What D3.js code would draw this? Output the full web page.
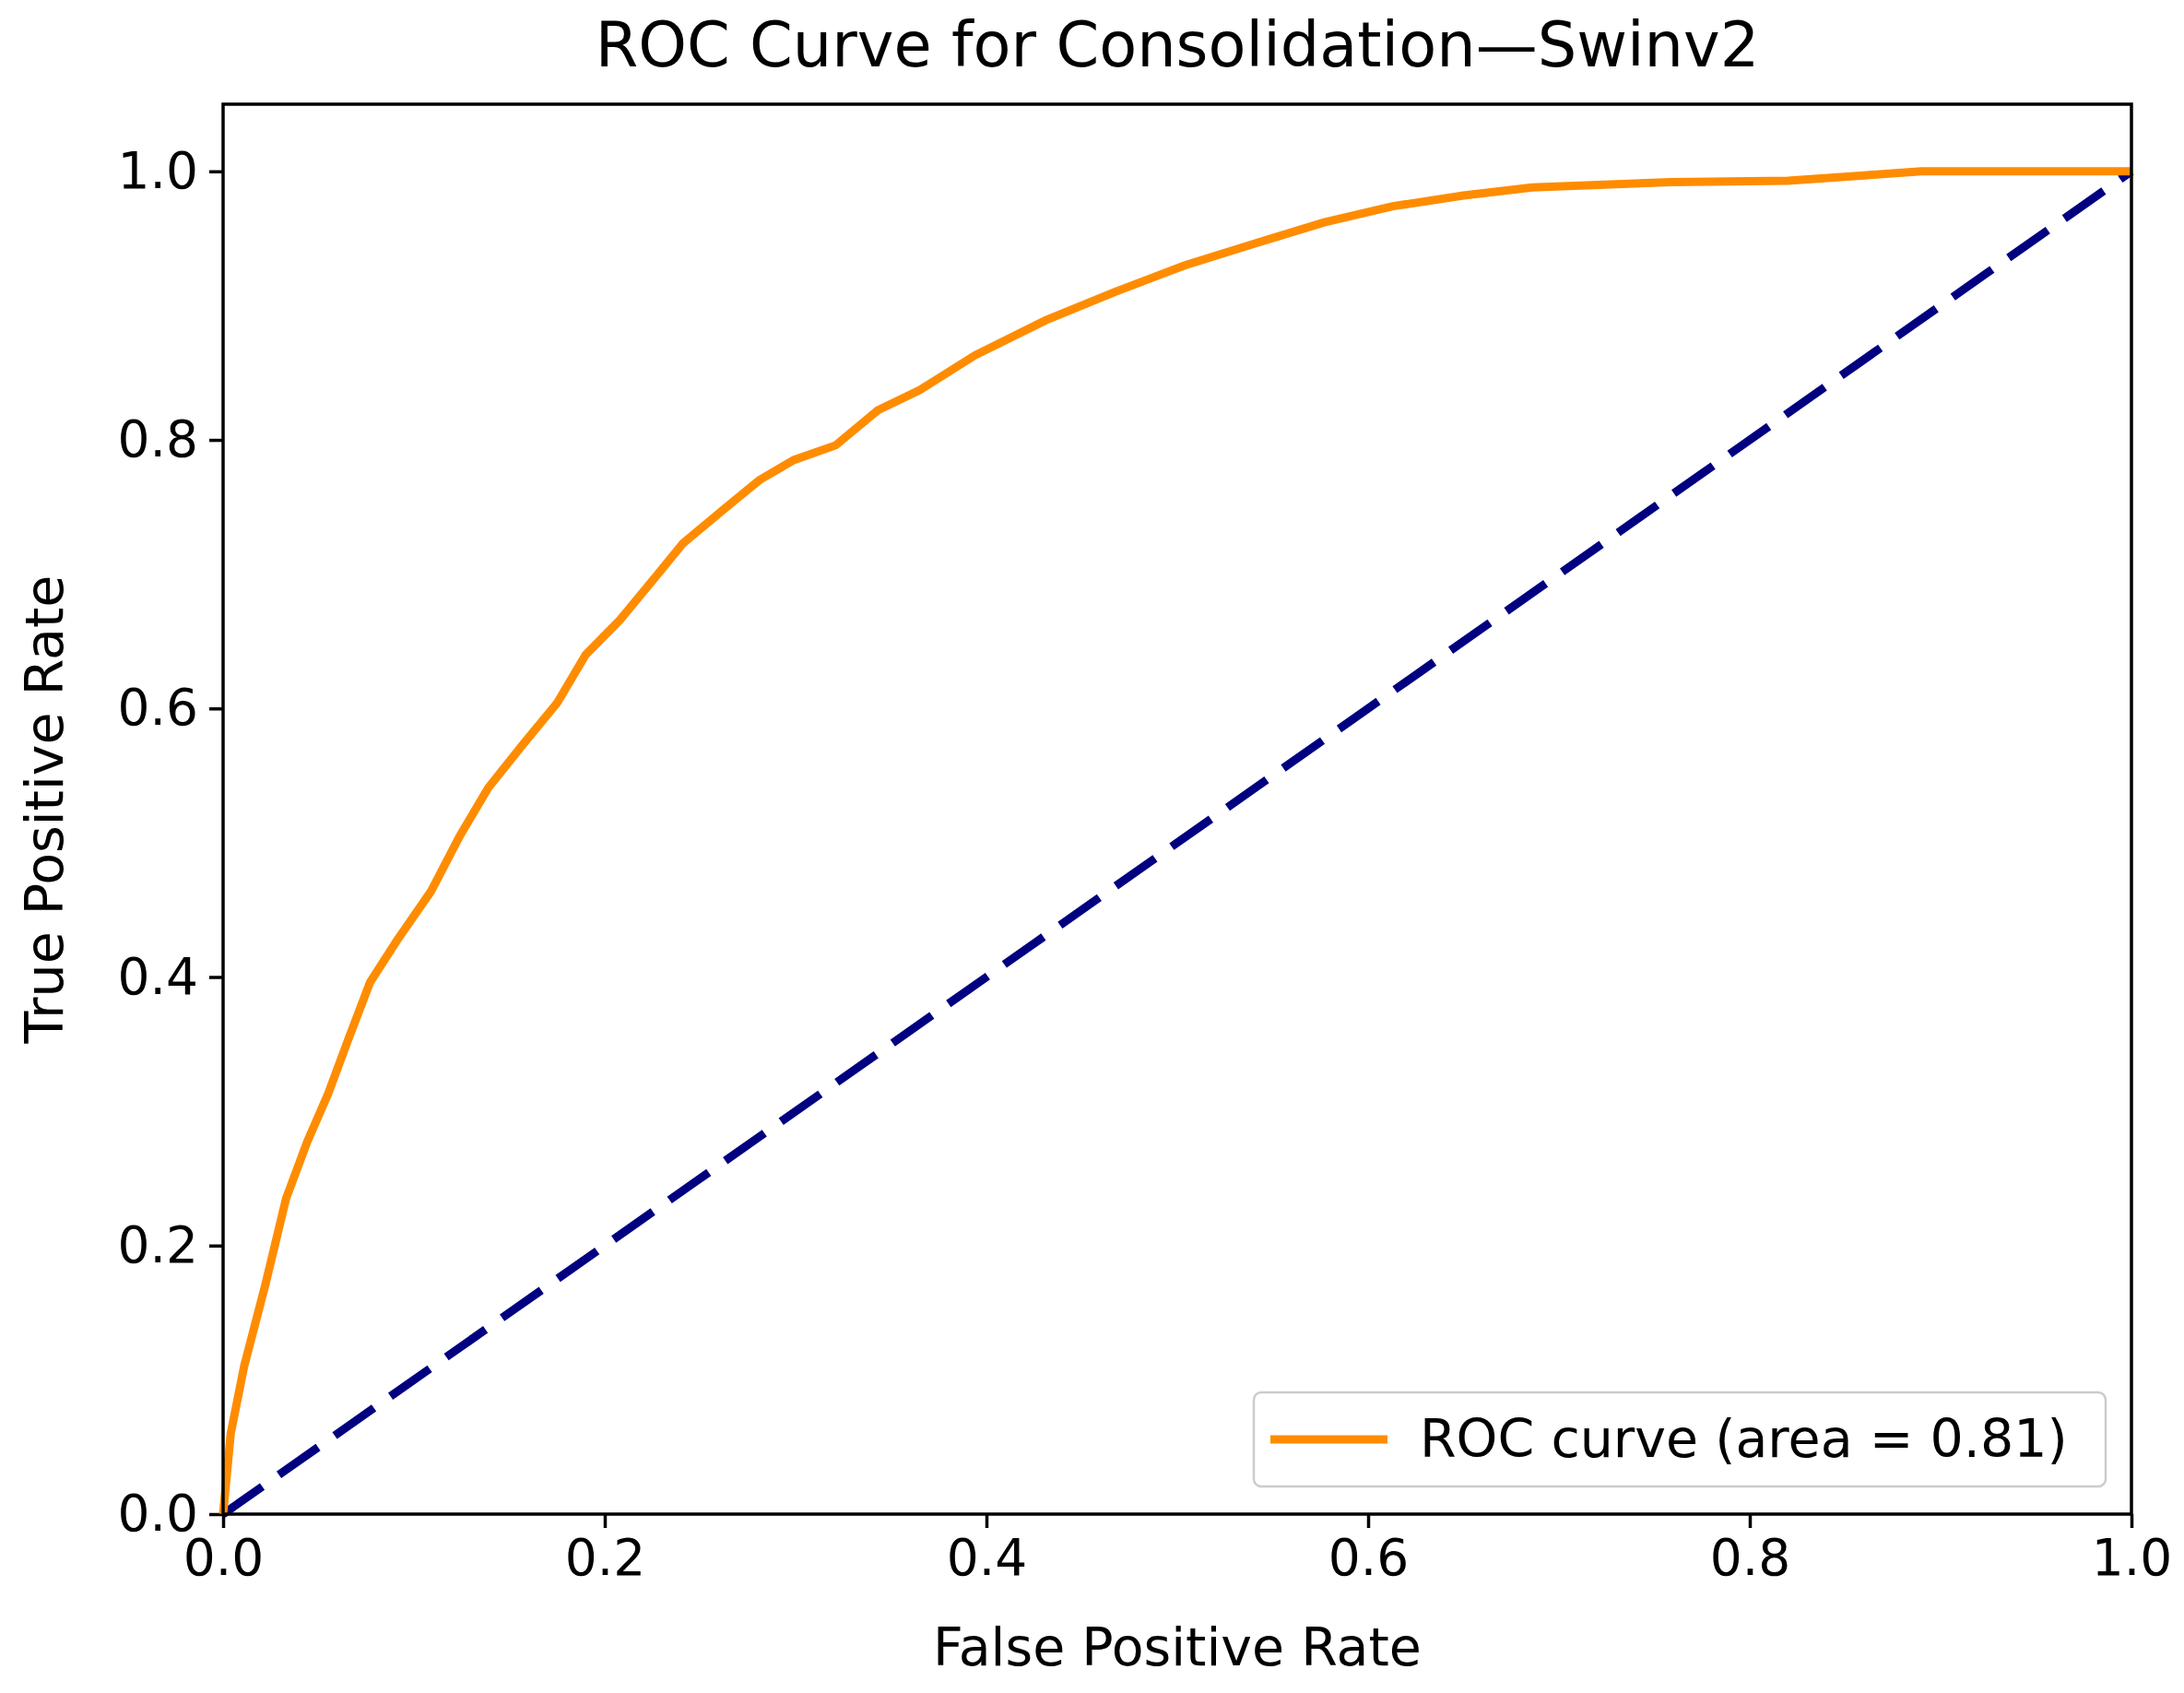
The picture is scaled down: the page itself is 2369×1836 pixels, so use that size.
<!DOCTYPE html>
<html><head><meta charset="utf-8">
<script src="https://cdn.jsdelivr.net/npm/d3@7"></script>
<style>body{margin:0;background:#fff}text{font-family:"DejaVu Sans",sans-serif}</style>
</head><body><svg id="c" width="2369" height="1836"></svg>
<script>
const fpr=[0,0.004,0.011,0.022,0.033,0.044,0.055,0.066,0.077,0.091,0.109,0.124,0.139,0.157,0.175,0.19,0.208,0.226,0.241,0.263,0.281,0.299,0.321,0.343,0.365,0.394,0.431,0.467,0.504,0.54,0.577,0.613,0.65,0.686,0.759,0.82,0.86,0.89,1.0];
const tpr=[0,0.06,0.11,0.17,0.235,0.277,0.313,0.355,0.396,0.427,0.464,0.505,0.541,0.573,0.604,0.64,0.666,0.697,0.723,0.749,0.77,0.785,0.796,0.822,0.837,0.863,0.889,0.91,0.93,0.946,0.962,0.974,0.982,0.988,0.992,0.993,0.997,1.0,1.0];
const ticks=[0,0.2,0.4,0.6,0.8,1.0];
const title="ROC Curve for Consolidation—Swinv2";
const legendLabel="ROC curve (area = 0.81)";
const L=242,R=2312,T=113,B=1642;
const svg=d3.select("#c");
const x=d3.scaleLinear().domain([0,1]).range([L,R]);
const y=d3.scaleLinear().domain([0,1.05]).range([B,T]);
const gx=svg.append("g").attr("transform",`translate(0,${B})`).call(d3.axisBottom(x).tickValues(ticks).tickFormat(d3.format(".1f")).tickSize(15).tickPadding(12));
const gy=svg.append("g").attr("transform",`translate(${L},0)`).call(d3.axisLeft(y).tickValues(ticks).tickFormat(d3.format(".1f")).tickSize(15).tickPadding(12));
[gx,gy].forEach(g=>{g.select(".domain").remove();g.selectAll("line").attr("stroke-width",3.5);g.selectAll("text").attr("font-size",55).attr("fill","#000");});
svg.append("path").datum([[0,0],[1,1]]).attr("d",d3.line().x(d=>x(d[0])).y(d=>y(d[1]))).attr("fill","none").attr("stroke","navy").attr("stroke-width",9).attr("stroke-dasharray","52,22");
svg.append("path").datum(fpr.map((f,i)=>[f,tpr[i]])).attr("d",d3.line().x(d=>x(d[0])).y(d=>y(d[1]))).attr("fill","none").attr("stroke","darkorange").attr("stroke-width",9);
svg.append("rect").attr("x",L).attr("y",T).attr("width",R-L).attr("height",B-T).attr("fill","none").attr("stroke","#000").attr("stroke-width",3.5);
svg.append("text").attr("x",(L+R)/2).attr("y",72).attr("text-anchor","middle").attr("font-size",67).text(title);
svg.append("text").attr("x",(L+R)/2).attr("y",1806).attr("text-anchor","middle").attr("font-size",57).text("False Positive Rate");
svg.append("text").attr("transform",`translate(68,${(T+B)/2}) rotate(-90)`).attr("text-anchor","middle").attr("font-size",57).text("True Positive Rate");
const lg=svg.append("g");
lg.append("rect").attr("x",1360).attr("y",1510).attr("width",924).attr("height",102).attr("rx",8).attr("fill","#fff").attr("stroke","#ccc").attr("stroke-width",2.5);
lg.append("line").attr("x1",1378).attr("x2",1505).attr("y1",1561).attr("y2",1561).attr("stroke","darkorange").attr("stroke-width",9);
lg.append("text").attr("x",1540).attr("y",1580).attr("font-size",57).text(legendLabel);
</script></body></html>
